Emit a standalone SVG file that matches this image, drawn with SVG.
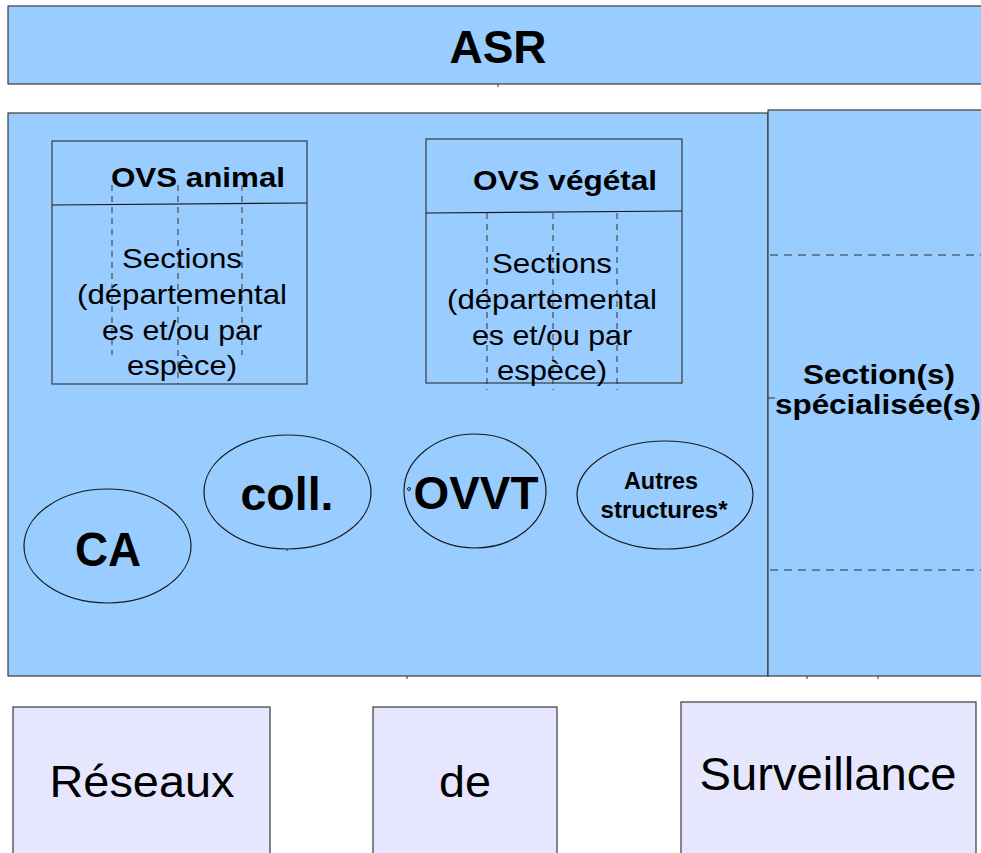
<svg xmlns="http://www.w3.org/2000/svg" width="981" height="853" viewBox="0 0 981 853">
<style>
  .blue { fill: #99ccff; stroke: #3a3a3a; stroke-width: 1.2; }
  .lav { fill: #e6e6ff; stroke: #3a3a3a; stroke-width: 1.2; }
  .line { stroke: #1a1a1a; stroke-width: 1.2; fill: none; }
  .dashv { stroke: #333; stroke-width: 1; stroke-dasharray: 6 5; fill: none; }
  .dashh { stroke: #333; stroke-width: 1; stroke-dasharray: 8 6; fill: none; }
  .ell { fill: #99ccff; stroke: #1a1a1a; stroke-width: 1.2; }
  .b { font-family: "Liberation Sans", Arial, sans-serif; font-weight: bold; fill: #000; text-anchor: middle; }
  .r { font-family: "Liberation Sans", Arial, sans-serif; fill: #000; text-anchor: middle; }
</style>
<rect width="981" height="853" fill="#ffffff"/>

<g id="asr">
  <rect class="blue" x="8" y="6" width="980" height="78"/>
  <text class="b" x="498" y="63" font-size="46">ASR</text>
</g>

<g id="main">
  <rect class="blue" x="8" y="113" width="760" height="563"/>
</g>

<g id="sections-specialisees">
  <rect class="blue" x="768" y="110" width="220" height="566"/>
  <line class="dashh" x1="770" y1="255" x2="981" y2="255"/>
  <line class="dashh" x1="770" y1="570" x2="981" y2="570"/>
  <text class="b" x="879" y="384" font-size="27" textLength="152" lengthAdjust="spacingAndGlyphs">Section(s)</text>
  <text class="b" x="878" y="414" font-size="27" textLength="206" lengthAdjust="spacingAndGlyphs">spécialisée(s)</text>
</g>

<g id="ovs-animal">
  <rect class="blue" x="52" y="141" width="255" height="243"/>
  <line class="line" x1="52" y1="205" x2="307" y2="203"/>
  <line class="dashv" x1="112" y1="185" x2="112" y2="355"/>
  <line class="dashv" x1="178" y1="185" x2="178" y2="384"/>
  <line class="dashv" x1="242" y1="185" x2="242" y2="355"/>
  <text class="b" x="198" y="187" font-size="28" textLength="174" lengthAdjust="spacingAndGlyphs">OVS animal</text>
  <text class="r" x="182" y="268" font-size="28" textLength="120" lengthAdjust="spacingAndGlyphs">Sections</text>
  <text class="r" x="182" y="304" font-size="28" textLength="210" lengthAdjust="spacingAndGlyphs">(départemental</text>
  <text class="r" x="182" y="340" font-size="28" textLength="160" lengthAdjust="spacingAndGlyphs">es et/ou par</text>
  <text class="r" x="182" y="375" font-size="28" textLength="110" lengthAdjust="spacingAndGlyphs">espèce)</text>
</g>

<g id="ovs-vegetal">
  <rect class="blue" x="426" y="139" width="256" height="244"/>
  <line class="line" x1="426" y1="213" x2="682" y2="211"/>
  <line class="dashv" x1="487" y1="213" x2="487" y2="390"/>
  <line class="dashv" x1="553" y1="213" x2="553" y2="390"/>
  <line class="dashv" x1="617" y1="213" x2="617" y2="390"/>
  <text class="b" x="565" y="190" font-size="28" textLength="184" lengthAdjust="spacingAndGlyphs">OVS végétal</text>
  <text class="r" x="552" y="273" font-size="28" textLength="120" lengthAdjust="spacingAndGlyphs">Sections</text>
  <text class="r" x="552" y="309" font-size="28" textLength="210" lengthAdjust="spacingAndGlyphs">(départemental</text>
  <text class="r" x="552" y="345" font-size="28" textLength="160" lengthAdjust="spacingAndGlyphs">es et/ou par</text>
  <text class="r" x="552" y="380" font-size="28" textLength="110" lengthAdjust="spacingAndGlyphs">espèce)</text>
</g>

<g id="ca">
  <ellipse class="ell" cx="107.5" cy="546" rx="83.5" ry="57"/>
  <text class="b" x="108" y="566" font-size="48" textLength="66" lengthAdjust="spacingAndGlyphs">CA</text>
</g>

<g id="coll">
  <ellipse class="ell" cx="287.5" cy="492" rx="83.5" ry="57"/>
  <text class="b" x="287" y="510" font-size="47" textLength="93" lengthAdjust="spacingAndGlyphs">coll.</text>
</g>

<g id="ovvt">
  <ellipse class="ell" cx="475" cy="491" rx="71" ry="57"/>
  <circle cx="409" cy="489" r="1.5" fill="none" stroke="#000" stroke-width="0.8"/>
  <text class="b" x="476" y="509" font-size="47" textLength="125" lengthAdjust="spacingAndGlyphs">OVVT</text>
</g>

<g id="autres">
  <ellipse class="ell" cx="665" cy="495" rx="88" ry="54"/>
  <text class="b" x="661" y="489" font-size="23.5" textLength="74" lengthAdjust="spacingAndGlyphs">Autres</text>
  <text class="b" x="664" y="518" font-size="23.5" textLength="127" lengthAdjust="spacingAndGlyphs">structures*</text>
</g>

<g id="reseaux">
  <rect class="lav" x="13" y="707" width="257" height="160"/>
  <text class="r" x="142" y="797" font-size="44" textLength="185" lengthAdjust="spacingAndGlyphs">Réseaux</text>
</g>

<g id="de">
  <rect class="lav" x="373" y="707" width="184" height="160"/>
  <text class="r" x="465" y="797" font-size="44" textLength="52" lengthAdjust="spacingAndGlyphs">de</text>
</g>

<g id="surveillance">
  <rect class="lav" x="681" y="702" width="295" height="165"/>
  <text class="r" x="828" y="790" font-size="46" textLength="257" lengthAdjust="spacingAndGlyphs">Surveillance</text>
</g>

<g id="connectors" stroke="#333" stroke-width="1" fill="none">
  <line x1="498" y1="84" x2="498" y2="87"/>
  <line x1="768" y1="398" x2="775" y2="398"/>
  <line x1="287" y1="549" x2="287" y2="551"/>
  <line x1="407" y1="676" x2="407" y2="679"/>
  <line x1="807" y1="676" x2="807" y2="679"/>
  <line x1="878" y1="676" x2="878" y2="679"/>
</g>
</svg>
